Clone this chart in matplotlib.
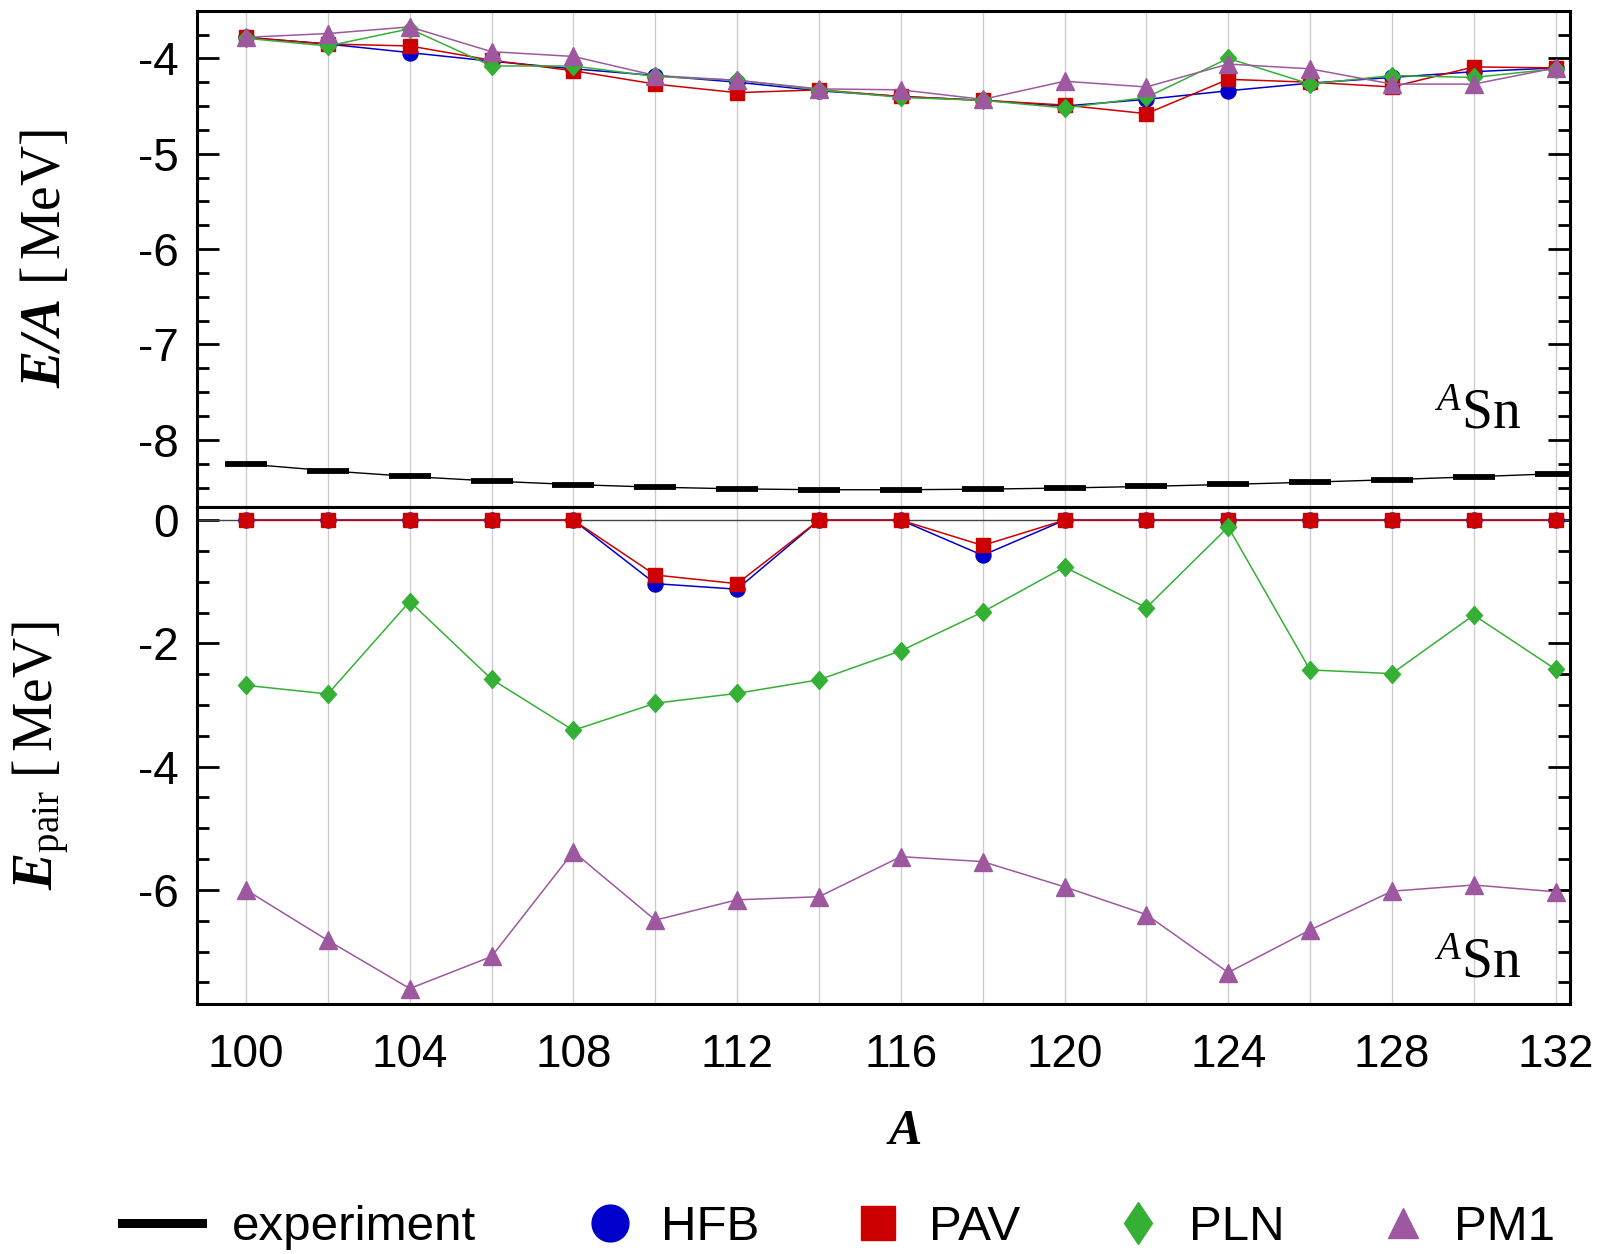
import matplotlib
matplotlib.use("Agg")
import matplotlib.pyplot as plt
from matplotlib.ticker import MultipleLocator
from matplotlib.markers import MarkerStyle
from matplotlib.transforms import Affine2D
from matplotlib.lines import Line2D

# Mass numbers of the tin isotopes
A = [100, 102, 104, 106, 108, 110, 112, 114, 116, 118, 120, 122, 124, 126, 128, 130, 132]

# Binding energy per nucleon E/A [MeV]
exp_ea = [-8.253, -8.324, -8.384, -8.432, -8.469, -8.496, -8.514, -8.523, -8.523,
          -8.517, -8.505, -8.488, -8.467, -8.444, -8.417, -8.387, -8.355]
hfb_ea = [-3.78, -3.85, -3.94, -4.03, -4.11, -4.18, -4.25, -4.34, -4.40, -4.44,
          -4.50, -4.43, -4.34, -4.26, -4.20, -4.14, -4.10]
pav_ea = [-3.78, -3.85, -3.87, -4.02, -4.13, -4.27, -4.36, -4.33, -4.40, -4.44,
          -4.49, -4.58, -4.22, -4.25, -4.30, -4.09, -4.10]
pln_ea = [-3.79, -3.87, -3.69, -4.08, -4.08, -4.19, -4.23, -4.33, -4.41, -4.44,
          -4.52, -4.41, -4.00, -4.27, -4.18, -4.20, -4.11]
pm1_ea = [-3.78, -3.74, -3.67, -3.93, -3.98, -4.18, -4.23, -4.32, -4.33, -4.43,
          -4.24, -4.30, -4.06, -4.11, -4.27, -4.27, -4.10]

# Pairing energy E_pair [MeV]
hfb_pair = [0, 0, 0, 0, 0, -1.03, -1.12, 0, 0, -0.57, 0, 0, 0, 0, 0, 0, 0]
pav_pair = [0, 0, 0, 0, 0, -0.89, -1.03, 0, 0, -0.41, 0, 0, 0, 0, 0, 0, 0]
pln_pair = [-2.68, -2.82, -1.32, -2.58, -3.41, -2.97, -2.81, -2.59, -2.12, -1.49,
            -0.76, -1.42, -0.11, -2.43, -2.49, -1.54, -2.42]
pm1_pair = [-6.00, -6.82, -7.60, -7.08, -5.38, -6.49, -6.16, -6.11, -5.46, -5.54,
            -5.95, -6.40, -7.34, -6.65, -6.02, -5.92, -6.03]

xtick_labels = [100, 104, 108, 112, 116, 120, 124, 128, 132]

plt.rcParams.update({
    "font.family": ["Liberation Sans", "DejaVu Sans"],
    "axes.unicode_minus": False,
    "mathtext.fontset": "custom",
    "mathtext.rm": "Liberation Serif",
    "mathtext.it": "Liberation Serif:italic",
    "mathtext.bf": "Liberation Serif:italic:bold",
})

C_HFB = "#0000cc"
C_PAV = "#cc0000"
C_PLN = "#35b035"
C_PM1 = "#9d58a0"

diamond = MarkerStyle("D", transform=Affine2D().scale(0.9, 1.0))
diamond_leg = MarkerStyle("D", transform=Affine2D().scale(0.67, 1.0))

fig = plt.figure(figsize=(16.01, 12.54), dpi=100)
left, right = 0.123, 0.9806
ax_top = fig.add_axes([left, 0.596, right - left, 0.9915 - 0.596])
ax_bot = fig.add_axes([left, 0.1994, right - left, 0.596 - 0.1994], sharex=ax_top)

lw = 1.1
series = [
    (hfb_ea, hfb_pair, C_HFB, "o", 10.8),
    (pav_ea, pav_pair, C_PAV, "s", 10.0),
    (pln_ea, pln_pair, C_PLN, diamond, 9.4),
    (pm1_ea, pm1_pair, C_PM1, "^", 13.0),
]

# upper panel: energy per nucleon
ax_top.plot(A, exp_ea, color="black", lw=1.0, marker="_", ms=30,
            mew=4.2, zorder=3)
for ea, _, col, mk, ms in series:
    ax_top.plot(A, ea, color=col, lw=lw, marker=mk, ms=ms, mec=col, mfc=col,
                zorder=4)

# lower panel: pairing energy
ax_bot.axhline(0, color="#444444", lw=1.0, zorder=2)
for _, pe, col, mk, ms in series:
    ax_bot.plot(A, pe, color=col, lw=lw, marker=mk, ms=ms, mec=col, mfc=col,
                zorder=4)

ax_top.set_ylim(-8.7, -3.5)
ax_bot.set_ylim(-7.85, 0.22)
ax_top.set_xlim(98.8, 132.35)

ax_top.yaxis.set_major_locator(MultipleLocator(1))
ax_top.yaxis.set_minor_locator(MultipleLocator(0.25))
ax_bot.yaxis.set_major_locator(MultipleLocator(2))
ax_bot.yaxis.set_minor_locator(MultipleLocator(0.5))

ax_bot.set_xticks(xtick_labels)
ax_bot.set_xticklabels([str(v) for v in xtick_labels])
ax_bot.set_xticks(A, minor=True)

for ax in (ax_top, ax_bot):
    for s in ax.spines.values():
        s.set_linewidth(2.2)
    ax.tick_params(axis="y", which="both", direction="in", left=True,
                   right=True, width=2.0, labelsize=33, pad=13)
    ax.tick_params(axis="y", which="major", length=16)
    ax.tick_params(axis="y", which="minor", length=8.5)
    ax.tick_params(axis="x", which="both", length=0, labelsize=33, pad=21)
    ax.grid(True, axis="x", which="both", color="#cccccc", lw=1.0, zorder=0)
    ax.set_axisbelow(True)

ax_top.tick_params(axis="x", labelbottom=False)

ax_top.set_ylabel(r"$\mathbf{E/A}\ [\,\mathrm{MeV}]$", fontsize=40)
ax_bot.set_ylabel(r"$\mathbf{E}_{\mathrm{pair}}\ [\,\mathrm{MeV}]$", fontsize=40)
ax_top.yaxis.set_label_coords(-0.091, 0.5)
ax_bot.yaxis.set_label_coords(-0.091, 0.5)
ax_bot.set_xlabel(r"$\mathbf{A}$", fontsize=36, labelpad=22)
ax_bot.xaxis.label.set_x(0.515)

for ax, yb in ((ax_top, 0.157), (ax_bot, 0.054)):
    ax.text(0.964, yb, r"${}^{\mathit{A}}\mathrm{Sn}$", transform=ax.transAxes,
            ha="right", va="baseline", fontsize=40)

# legend: experimental line on its own, calculated variants after it
leg_fs = 35.5
exp_handle = [Line2D([], [], color="black", lw=6.5)]
leg1 = fig.legend(exp_handle, ["experiment"], loc="center left",
                  bbox_to_anchor=(0.0765, 0.021), frameon=False,
                  fontsize=leg_fs, handlelength=1.62, handletextpad=0.59,
                  borderpad=0.0, borderaxespad=0.0)

mk_handles = [
    Line2D([], [], ls="none", marker="o", ms=26.5, color=C_HFB),
    Line2D([], [], ls="none", marker="s", ms=24.5, color=C_PAV),
    Line2D([], [], ls="none", marker=diamond_leg, ms=21.5, color=C_PLN),
    Line2D([], [], ls="none", marker="^", ms=21.5, color=C_PM1),
]
fig.legend(mk_handles, ["HFB", "PAV", "PLN", "PM1"], loc="center left",
           bbox_to_anchor=(0.369, 0.021), ncol=4, frameon=False,
           fontsize=leg_fs, handlelength=0.8, handletextpad=0.63,
           columnspacing=2.0, borderpad=0.0, borderaxespad=0.0)

fig.savefig("out.png", dpi=100)
